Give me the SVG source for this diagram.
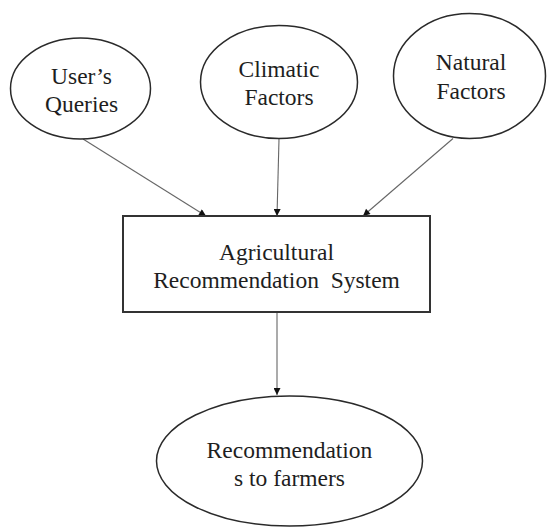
<svg xmlns="http://www.w3.org/2000/svg" width="547" height="527" viewBox="0 0 547 527">
<defs>
<marker id="arr" viewBox="0 0 10 10" refX="10" refY="5" markerWidth="9" markerHeight="7" markerUnits="userSpaceOnUse" orient="auto">
<path d="M0,0 L10,5 L0,10 z" fill="#111"/>
</marker>
</defs>
<style>
.n{fill:#fff;stroke:#2a2a2a;stroke-width:1.5}
.b{fill:#fff;stroke:#333;stroke-width:2}
.c{stroke:#666;stroke-width:1.1;fill:none;marker-end:url(#arr)}
</style>
<rect width="547" height="527" fill="#fff"/>
<g id="connectors">
<line class="c" x1="83" y1="139" x2="206" y2="216"/>
<line class="c" x1="279" y1="139" x2="277" y2="216"/>
<line class="c" x1="453" y1="138.5" x2="363" y2="216"/>
<line class="c" x1="277" y1="312" x2="277" y2="395"/>
</g>
<g id="users-queries">
<ellipse class="n" cx="80.5" cy="88.5" rx="70" ry="50.5"/>
<text style="font-family:'Times New Roman','Liberation Serif',serif" font-family="Times New Roman" font-size="23.5" fill="#1e1e1e" text-anchor="middle" x="81.5" y="84">User’s</text>
<text style="font-family:'Times New Roman','Liberation Serif',serif" font-family="Times New Roman" font-size="23.5" fill="#1e1e1e" text-anchor="middle" x="81.5" y="112">Queries</text>
</g>
<g id="climatic-factors">
<ellipse class="n" cx="279" cy="82" rx="78.5" ry="56.5"/>
<text style="font-family:'Times New Roman','Liberation Serif',serif" font-family="Times New Roman" font-size="23.5" fill="#1e1e1e" text-anchor="middle" x="279" y="77">Climatic</text>
<text style="font-family:'Times New Roman','Liberation Serif',serif" font-family="Times New Roman" font-size="23.5" fill="#1e1e1e" text-anchor="middle" x="279" y="105">Factors</text>
</g>
<g id="natural-factors">
<ellipse class="n" cx="469.5" cy="76" rx="76" ry="62.5"/>
<text style="font-family:'Times New Roman','Liberation Serif',serif" font-family="Times New Roman" font-size="23.5" fill="#1e1e1e" text-anchor="middle" x="471" y="70">Natural</text>
<text style="font-family:'Times New Roman','Liberation Serif',serif" font-family="Times New Roman" font-size="23.5" fill="#1e1e1e" text-anchor="middle" x="471" y="99">Factors</text>
</g>
<g id="system">
<rect class="b" x="123" y="216" width="307" height="96"/>
<text style="font-family:'Times New Roman','Liberation Serif',serif" font-family="Times New Roman" font-size="23.5" fill="#1e1e1e" text-anchor="middle" x="276.5" y="260">Agricultural</text>
<text style="font-family:'Times New Roman','Liberation Serif',serif" font-family="Times New Roman" font-size="23.5" fill="#1e1e1e" text-anchor="middle" x="276.5" y="288" xml:space="preserve">Recommendation  System</text>
</g>
<g id="recommendations">
<ellipse class="n" cx="289.5" cy="461" rx="133" ry="65"/>
<text style="font-family:'Times New Roman','Liberation Serif',serif" font-family="Times New Roman" font-size="23.5" fill="#1e1e1e" text-anchor="middle" x="289.5" y="458">Recommendation</text>
<text style="font-family:'Times New Roman','Liberation Serif',serif" font-family="Times New Roman" font-size="23.5" fill="#1e1e1e" text-anchor="middle" x="289.5" y="486">s to farmers</text>
</g>
</svg>
